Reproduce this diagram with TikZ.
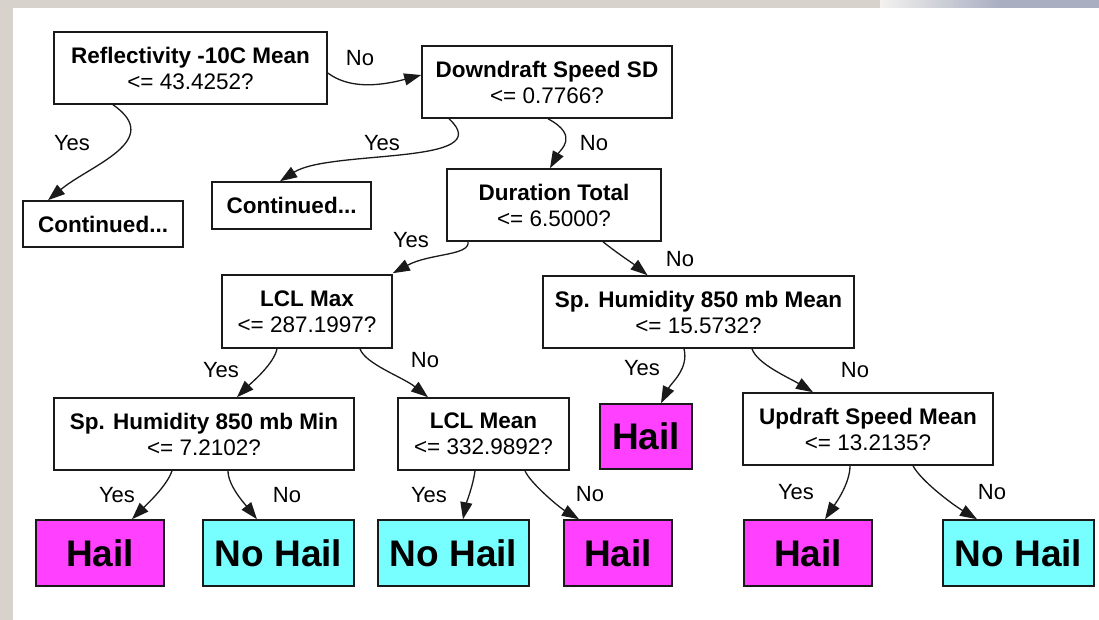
\documentclass[tikz,border=0pt]{standalone}
\usepackage{fontspec}
\setmainfont{Liberation Sans}
\usepackage{tikz}
\usetikzlibrary{arrows.meta}
\definecolor{Ink}{HTML}{1A1A1A}
\definecolor{HailPink}{HTML}{FF40FF}
\definecolor{NoHailCyan}{HTML}{77FFFF}
\definecolor{Stone}{HTML}{D7D2CC}
\definecolor{Slate}{HTML}{A9AEC1}

\tikzset{
  split/.style={draw=Ink,line width=1.6pt,fill=white,align=center,inner sep=0pt,minimum height=72pt,font=\fontsize{22.5}{26}\selectfont},
  leaf/.style={draw=Ink,line width=1.6pt,inner sep=0pt,minimum height=66pt,font=\fontsize{37}{40}\selectfont\bfseries},
  edge/.style={draw=Ink,line width=1.3pt,-{Triangle[length=17pt,width=12pt]}},
  ans/.style={font=\fontsize{22}{24}\selectfont,inner sep=0pt},
}

\begin{document}
\begin{tikzpicture}[x=1pt,y=1pt]
  \useasboundingbox (0,0) rectangle (1099,-620);
  % backdrop and paper
  \fill[Stone] (0,0) rectangle (1099,-620);
  \shade[left color=Stone!30,right color=Slate] (880,0) rectangle (1000,-8);
  \fill[Slate] (1000,0) rectangle (1099,-8);
  \fill[white] (13,-8) rectangle (1099,-620);

  % split nodes
  \node[split,minimum width=273pt] (refl) at (190.5,-68) {\textbf{Reflectivity -10C Mean}\\<= 43.4252?};
  \node[split,minimum width=250pt] (down) at (547,-82) {\textbf{Downdraft Speed SD}\\<= 0.7766?};
  \node[split,minimum width=214pt] (dur) at (554,-205) {\textbf{Duration Total}\\<= 6.5000?};
  \node[split,minimum width=170pt,minimum height=73pt] (lclmax) at (307,-311.5) {\textbf{LCL Max}\\<= 287.1997?};
  \node[split,minimum width=311pt] (sphmean) at (698.5,-312) {\textbf{Sp. Humidity 850 mb Mean}\\<= 15.5732?};
  \node[split,minimum width=300pt] (sphmin) at (204,-434) {\textbf{Sp. Humidity 850 mb Min}\\<= 7.2102?};
  \node[split,minimum width=171pt] (lclmean) at (483.5,-434) {\textbf{LCL Mean}\\<= 332.9892?};
  \node[split,minimum width=250pt] (updraft) at (868,-429) {\textbf{Updraft Speed Mean}\\<= 13.2135?};

  % cut-off branches
  \node[split,minimum width=160pt,minimum height=46pt] (contA) at (103,-224) {\textbf{Continued...}};
  \node[split,minimum width=159pt,minimum height=47pt] (contB) at (291.5,-205.5) {\textbf{Continued...}};

  % leaves
  \node[leaf,fill=HailPink,minimum width=92pt,minimum height=65pt] (hailM) at (646,-436.5) {Hail};
  \foreach \nm/\cx/\bw/\col/\txt in {hailA/100/128/HailPink/Hail,noA/278.5/151/NoHailCyan/No Hail,
      noB/453.5/151/NoHailCyan/No Hail,hailB/618/108/HailPink/Hail,
      hailC/808/128/HailPink/Hail,noC/1018.5/151/NoHailCyan/No Hail}
    \node[leaf,fill=\col,minimum width=\bw] (\nm) at (\cx,-553) {\txt};

  % connectors
  \draw[edge] ([yshift=-5]refl.east) .. controls +(20,-15) and +(-45,-12) .. ([yshift=7]down.west);
  \draw[edge] ([xshift=-77.5]refl.south) .. controls +(52,-36) and +(42,35) .. ([xshift=-55]contA.north);
  \draw[edge] ([xshift=-98]down.south) .. controls +(51,-47) and +(50,32) .. ([xshift=-11.5]contB.north);
  \draw[edge] ([xshift=1]down.south) .. controls +(32,-17) and +(10,18) .. ([xshift=-4]dur.north);
  \draw[edge] ([xshift=-86]dur.south) .. controls +(2,-14) and +(37,20) .. ([yshift=1]lclmax.north east);
  \draw[edge] ([xshift=49]dur.south) .. controls +(15,-12) and +(-15,12) .. ([xshift=-51]sphmean.north);
  \draw[edge] ([xshift=-30]lclmax.south) .. controls +(-3,-15) and +(15,15) .. ([xshift=33]sphmin.north);
  \draw[edge] ([xshift=53]lclmax.south) .. controls +(5,-15) and +(-25,20) .. ([xshift=-55.5]lclmean.north);
  \draw[edge] ([xshift=-14.5]sphmean.south) .. controls +(5,-20) and +(10,20) .. ([xshift=15]hailM.north);
  \draw[edge] ([xshift=53.5]sphmean.south) .. controls +(5,-15) and +(-25,15) .. ([xshift=-55]updraft.north);
  \draw[edge] ([xshift=-32]sphmin.south) .. controls +(-5,-15) and +(15,15) .. ([xshift=32]hailA.north);
  \draw[edge] ([xshift=24]sphmin.south) .. controls +(0,-15) and +(-12,15) .. ([xshift=-21.5]noA.north);
  \draw[edge] ([xshift=-8.5]lclmean.south) .. controls +(-2,-15) and +(3,15) .. ([xshift=9.5]noB.north);
  \draw[edge] ([xshift=41.5]lclmean.south) .. controls +(5,-12) and +(-20,12) .. ([xshift=-39]hailB.north);
  \draw[edge] ([xshift=-18]updraft.south) .. controls +(0,-18) and +(10,15) .. ([xshift=17]hailC.north);
  \draw[edge] ([xshift=45]updraft.south) .. controls +(8,-15) and +(-25,15) .. ([xshift=-41.5]noC.north);

  % answers
  \node[ans] (a1) at (360,-58) {No};
  \node[ans] (a2) at (72,-143) {Yes};
  \node[ans] (a3) at (382,-143) {Yes};
  \node[ans] (a4) at (594,-143) {No};
  \node[ans] (a5) at (411,-240) {Yes};
  \node[ans] (a6) at (680,-259) {No};
  \node[ans] (a7) at (221,-370) {Yes};
  \node[ans] (a8) at (425,-360) {No};
  \node[ans] (a9) at (642,-368) {Yes};
  \node[ans] (a10) at (855,-370) {No};
  \node[ans] (a11) at (117,-495) {Yes};
  \node[ans] (a12) at (287,-495) {No};
  \node[ans] (a13) at (429,-495) {Yes};
  \node[ans] (a14) at (590,-494) {No};
  \node[ans] (a15) at (796,-492) {Yes};
  \node[ans] (a16) at (992,-492) {No};
\end{tikzpicture}
\end{document}
